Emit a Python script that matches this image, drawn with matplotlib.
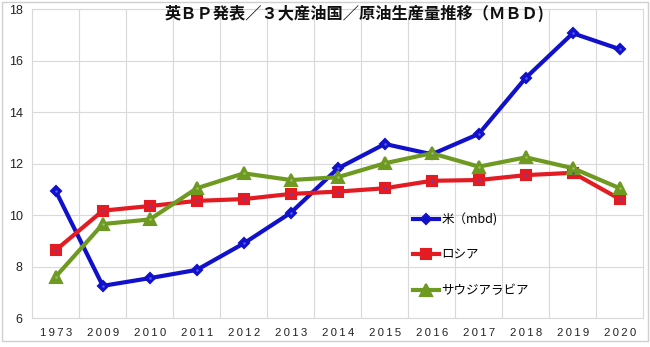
import matplotlib
matplotlib.use("Agg")
import matplotlib.pyplot as plt
from matplotlib.patches import Rectangle
from matplotlib.ticker import FixedLocator

plt.rcParams['font.family'] = ['Noto Sans CJK JP', 'DejaVu Sans']

# Crude oil production, million barrels per day
years = ['1973', '2009', '2010', '2011', '2012', '2013', '2014',
         '2015', '2016', '2017', '2018', '2019', '2020']
usa = [10.94, 7.26, 7.56, 7.88, 8.91, 10.10, 11.82,
       12.77, 12.37, 13.16, 15.34, 17.07, 16.45]
russia = [8.65, 10.18, 10.36, 10.56, 10.63, 10.83, 10.92,
          11.05, 11.34, 11.37, 11.56, 11.65, 10.63]
saudi = [7.62, 9.66, 9.84, 11.05, 11.63, 11.37, 11.48,
         12.02, 12.41, 11.89, 12.25, 11.83, 11.05]

series_labels = ['米（mbd)', 'ロシア', 'サウジアラビア']
title = '英ＢＰ発表／３大産油国／原油生産量推移（ＭＢＤ)'
yticks = [6, 8, 10, 12, 14, 16, 18]

W, H = 650, 347
fig = plt.figure(figsize=(W / 100, H / 100), dpi=100)
fig.patch.set_facecolor('white')

# plot area in pixel coordinates
left, right, top, bottom = 32.3, 643.3, 9.3, 318.3
ax = fig.add_axes([left / W, 1 - bottom / H, (right - left) / W, (bottom - top) / H])

x = list(range(len(years)))
grid_c = '#D9D9D9'

styles = [
    (usa, '#1111CC', 'D', 5.2, '#5a5aff'),
    (russia, '#E31B23', 's', 6.8, '#6a3cc0'),
    (saudi, '#6E9A22', '^', 8.5, '#9cc060'),
]
for (vals, col, mk, ms, dot), lab in zip(styles, series_labels):
    ax.plot(x, vals, color=col, lw=3.0, marker=mk, markersize=ms,
            markerfacecolor=col, markeredgecolor=col, markeredgewidth=1.5,
            solid_joinstyle='round', label=lab, zorder=3)
    ax.plot(x, vals, ls='none', marker='o', markersize=1.8,
            markerfacecolor=dot, markeredgewidth=0, zorder=4)

ax.set_xlim(-0.5, len(years) - 0.5)
ax.set_ylim(6, 18)
ax.set_yticks(yticks)
ax.set_yticklabels([str(v) for v in yticks], family=['Liberation Sans', 'DejaVu Sans'],
                   fontsize=9, color='#222222')
ax.set_xticks(x)
ax.set_xticklabels(['\u2009'.join(y) for y in years],
                   family=['Liberation Sans', 'DejaVu Sans'], fontsize=8.2, color='#222222')
ax.xaxis.set_minor_locator(FixedLocator([i + 0.5 for i in range(len(years) - 1)]))
ax.tick_params(axis='both', which='both', length=0)
ax.tick_params(axis='x', pad=7)
ax.tick_params(axis='y', pad=7)

ax.grid(axis='y', which='major', color=grid_c, lw=0.8)
ax.grid(axis='x', which='minor', color=grid_c, lw=0.8)
ax.grid(axis='x', which='major', visible=False)
ax.set_axisbelow(True)
for s in ax.spines.values():
    s.set_color(grid_c)
    s.set_linewidth(0.8)

leg = ax.legend(loc='upper left', bbox_to_anchor=((412.7 - left) / (right - left),
                                                  (bottom - 213) / (bottom - top)),
                frameon=False, fontsize=9, handlelength=2.1, handletextpad=0.2,
                labelspacing=1.8, borderpad=0, borderaxespad=0)

fig.text(354.9 / W, 1 - 13 / H, title, ha='center', va='center',
         fontsize=11.7, fontweight='bold', color='#111111')

# outer chart frame
fig.add_artist(Rectangle((1.5 / W, 1 - 341 / H), 646 / W, 339.5 / H,
                         transform=fig.transFigure, fill=False,
                         edgecolor='#D0D0D0', lw=1.0))

fig.savefig('out.png', dpi=100)
